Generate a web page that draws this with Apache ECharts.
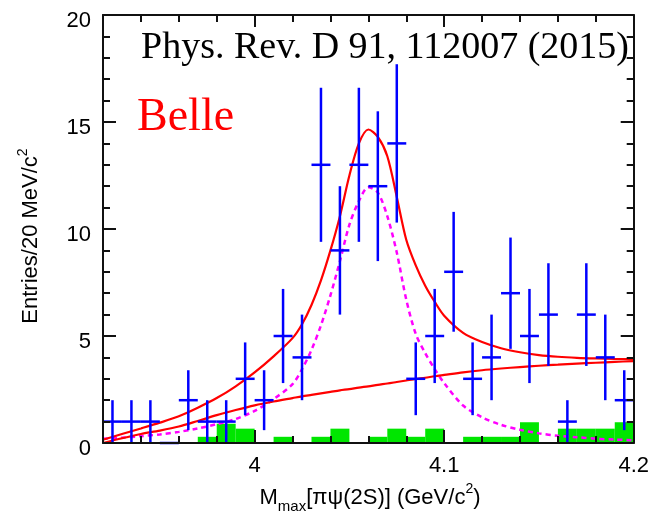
<!DOCTYPE html>
<html>
<head>
<meta charset="utf-8">
<script src="https://cdn.jsdelivr.net/npm/echarts@6/dist/echarts.min.js"></script>
<style>
    html, body { margin: 0; padding: 0; background: #fff; }
    #chart { width: 652px; height: 520px; }
</style>
</head>
<body>
<div id="chart"></div>
<script>
(function () {

    /* ---------- data ---------- */

    // 10 MeV bins
    var binCenters = [3.925, 3.935, 3.945, 3.955, 3.965, 3.975, 3.985, 3.995, 4.005, 4.015,
                      4.025, 4.035, 4.045, 4.055, 4.065, 4.075, 4.085, 4.095, 4.105, 4.115,
                      4.125, 4.135, 4.145, 4.155, 4.165, 4.175, 4.185, 4.195];
    var binHalf = 0.005;
    var counts  = [1, 1, 1, 0, 2, 1, 1, 3, 2, 5,
                   4, 13, 9, 13, 12, 14, 3, 5, 8, 3,
                   4, 7, 5, 6, 1, 6, 4, 2];
    var errLow  = [0, 0, 0, 0, 0.6, 0, 0, 1.3, 0.6, 2.8,
                   2, 9.4, 6, 9.4, 8.5, 10.3, 1.3, 2.8, 5.2, 1.3,
                   2, 4.4, 2.8, 3.6, 0, 3.6, 2, 0.6];
    var errHigh = [2, 2, 2, 0, 3.4, 2, 2, 4.7, 3.4, 7.2,
                   6, 16.6, 12, 16.6, 15.5, 17.7, 4.7, 7.2, 10.8, 4.7,
                   6, 9.6, 7.2, 8.4, 2, 8.4, 6, 3.4];
    // green histogram (sideband estimate)
    var sideband = [0, 0, 0, 0, 0, 0.29, 0.9, 0.67, 0, 0.29,
                    0, 0.29, 0.67, 0, 0.29, 0.67, 0.29, 0.67, 0, 0.29,
                    0.29, 0.29, 0.97, 0, 0.67, 0.67, 0.67, 0.97];

    // fit curves, sampled
    var curveX   = [3.92, 3.93, 3.94, 3.95, 3.96, 3.97, 3.98, 3.99, 4.00, 4.01,
                    4.02, 4.025, 4.03, 4.035, 4.04, 4.045, 4.05, 4.055, 4.06, 4.065,
                    4.07, 4.075, 4.08, 4.085, 4.09, 4.095, 4.10, 4.11, 4.12, 4.13,
                    4.14, 4.15, 4.16, 4.17, 4.18, 4.19, 4.20];
    var fitTotal = [0.15, 0.42, 0.68, 0.95, 1.25, 1.65, 2.1, 2.65, 3.3, 4.05,
                    4.9, 5.55, 6.45, 7.6, 9.0, 10.6, 12.5, 14.0, 14.65, 14.3,
                    13.4, 11.5, 9.5, 8.3, 7.35, 6.6, 5.95, 5.15, 4.72, 4.43,
                    4.24, 4.11, 4.03, 3.98, 3.95, 3.93, 3.92];
    var fitBkg   = [0, 0.22, 0.42, 0.58, 0.77, 1.03, 1.3, 1.54, 1.76, 1.94,
                    2.1, 2.18, 2.25, 2.32, 2.39, 2.46, 2.52, 2.59, 2.65, 2.72,
                    2.78, 2.85, 2.92, 2.99, 3.05, 3.12, 3.18, 3.3, 3.4, 3.48,
                    3.55, 3.61, 3.66, 3.71, 3.75, 3.79, 3.83];
    var fitSig   = [0.2, 0.25, 0.32, 0.4, 0.52, 0.68, 0.88, 1.12, 1.5, 2.05,
                    2.75, 3.45, 4.35, 5.5, 6.9, 8.5, 10.2, 11.3, 11.95, 11.7,
                    10.6, 8.9, 6.7, 5.1, 4.2, 3.45, 2.8, 1.75, 1.2, 0.85,
                    0.62, 0.45, 0.34, 0.27, 0.2, 0.16, 0.13];

    // axis ticks
    var xMajorTicks = [4, 4.1, 4.2];
    var xMinorTicks = [3.94, 3.96, 3.98, 4.02, 4.04, 4.06, 4.08, 4.12, 4.14, 4.16, 4.18];

    /* ---------- build series data ---------- */

    var pointData = binCenters.map(function (x, i) {
        return [x, counts[i], errLow[i], errHigh[i]];
    });
    var histData = binCenters.map(function (x, i) {
        return [x, sideband[i]];
    });
    function pairs(ys) {
        return curveX.map(function (x, i) { return [x, ys[i]]; });
    }

    var sansFont = 'Liberation Sans, Arial, sans-serif';
    var black = '#111';

    function xAxisDef(pos, ticks, len, withLabels, withLine) {
        return {
            type: 'value',
            position: pos,
            min: 3.92,
            max: 4.2,
            z: 5,
            axisLine: { show: withLine, onZero: false, lineStyle: { color: black, width: 2 } },
            axisTick: { show: true, inside: true, length: len, customValues: ticks,
                        lineStyle: { color: black, width: 2 } },
            axisLabel: withLabels ? {
                show: true, customValues: ticks, margin: 12,
                fontFamily: sansFont, fontSize: 22, color: '#000'
            } : { show: false },
            splitLine: { show: false }
        };
    }

    function yAxisDef(pos, withLabels) {
        return {
            type: 'value',
            position: pos,
            min: 0,
            max: 20,
            interval: 5,
            z: 5,
            axisLine: { show: true, onZero: false, lineStyle: { color: black, width: 2 } },
            axisTick: { show: true, inside: true, length: 13, lineStyle: { color: black, width: 2 } },
            minorTick: { show: true, splitNumber: 5, length: 7, lineStyle: { color: black, width: 2 } },
            axisLabel: withLabels ? {
                show: true, margin: 12,
                formatter: function (v) { return '{v|' + v + '}'; },
                rich: {
                    v: { fontFamily: sansFont, fontSize: 22, color: '#000', padding: [11, 0, 0, 0] }
                }
            } : { show: false },
            splitLine: { show: false },
            minorSplitLine: { show: false }
        };
    }

    var myChart = echarts.init(document.getElementById('chart'));

    var option = {
        backgroundColor: '#fff',
        animation: false,
        grid: { left: 103, right: 14, top: 15, bottom: 77 },
        xAxis: [
            xAxisDef('bottom', xMajorTicks, 13, true, true),
            xAxisDef('bottom', xMinorTicks, 7, false, false),
            xAxisDef('top', xMajorTicks, 12, false, true),
            xAxisDef('top', xMinorTicks, 7, false, false)
        ],
        yAxis: [
            yAxisDef('left', true),
            yAxisDef('right', false)
        ],
        graphic: [
            {
                type: 'text', x: 141, y: 48, z: 20,
                style: { text: 'Phys. Rev. D 91, 112007 (2015)', fill: '#000',
                         font: '38px "Liberation Serif", "Times New Roman", serif',
                         align: 'left', verticalAlign: 'middle' }
            },
            {
                type: 'text', x: 137, y: 118, z: 20,
                style: { text: 'Belle', fill: '#ff0000',
                         font: '46px "Liberation Serif", "Times New Roman", serif',
                         align: 'left', verticalAlign: 'middle' }
            },
            {
                type: 'text', x: 31, y: 236, rotation: Math.PI / 2, z: 20,
                style: {
                    text: '{a|Entries/20 MeV/c}{s|2}',
                    align: 'center', verticalAlign: 'middle',
                    rich: {
                        a: { fontFamily: sansFont, fontSize: 22, lineHeight: 30, fill: '#000', verticalAlign: 'middle' },
                        s: { fontFamily: sansFont, fontSize: 14, lineHeight: 14, fill: '#000', verticalAlign: 'top' }
                    }
                }
            },
            {
                type: 'text', x: 370, y: 498, z: 20,
                style: {
                    text: '{a|M}{b|max}{a|[πψ(2S)] (GeV/c}{s|2}{a|)}',
                    align: 'center', verticalAlign: 'middle',
                    rich: {
                        a: { fontFamily: sansFont, fontSize: 22, lineHeight: 32, fill: '#000', verticalAlign: 'middle' },
                        b: { fontFamily: sansFont, fontSize: 15, lineHeight: 15, fill: '#000', verticalAlign: 'bottom' },
                        s: { fontFamily: sansFont, fontSize: 14, lineHeight: 14, fill: '#000', verticalAlign: 'top' }
                    }
                }
            }
        ],
        series: [
            {
                name: 'sideband',
                type: 'custom',
                z: 1,
                data: histData,
                renderItem: function (params, api) {
                    var x = api.value(0), h = api.value(1);
                    if (!h) return;
                    var p0 = api.coord([x - binHalf, h]);
                    var p1 = api.coord([x + binHalf, 0]);
                    return {
                        type: 'rect',
                        shape: { x: p0[0], y: p0[1], width: p1[0] - p0[0], height: p1[1] - p0[1] },
                        style: { fill: '#00e600' }
                    };
                }
            },
            {
                name: 'signal',
                type: 'line',
                z: 2,
                data: pairs(fitSig),
                smooth: 0.3,
                showSymbol: false,
                lineStyle: { color: '#ff00ff', width: 2.5, type: [5, 4] }
            },
            {
                name: 'background',
                type: 'line',
                z: 3,
                data: pairs(fitBkg),
                smooth: 0.3,
                showSymbol: false,
                lineStyle: { color: '#ff0000', width: 2.2 }
            },
            {
                name: 'total',
                type: 'line',
                z: 3,
                data: pairs(fitTotal),
                smooth: 0.3,
                showSymbol: false,
                lineStyle: { color: '#ff0000', width: 2.2 }
            },
            {
                name: 'data',
                type: 'custom',
                z: 4,
                data: pointData,
                renderItem: function (params, api) {
                    var x = api.value(0), y = api.value(1);
                    var pL = api.coord([x - binHalf, y]);
                    var pR = api.coord([x + binHalf, y]);
                    var pLo = api.coord([x, api.value(2)]);
                    var pHi = api.coord([x, api.value(3)]);
                    var st = { stroke: '#0000ff', lineWidth: 2.5 };
                    return {
                        type: 'group',
                        children: [
                            { type: 'line', shape: { x1: pL[0], y1: pL[1], x2: pR[0], y2: pR[1] }, style: st },
                            { type: 'line', shape: { x1: pLo[0], y1: pLo[1], x2: pHi[0], y2: pHi[1] }, style: st }
                        ]
                    };
                }
            }
        ]
    };

    myChart.setOption(option);
}());
</script>
</body>
</html>
